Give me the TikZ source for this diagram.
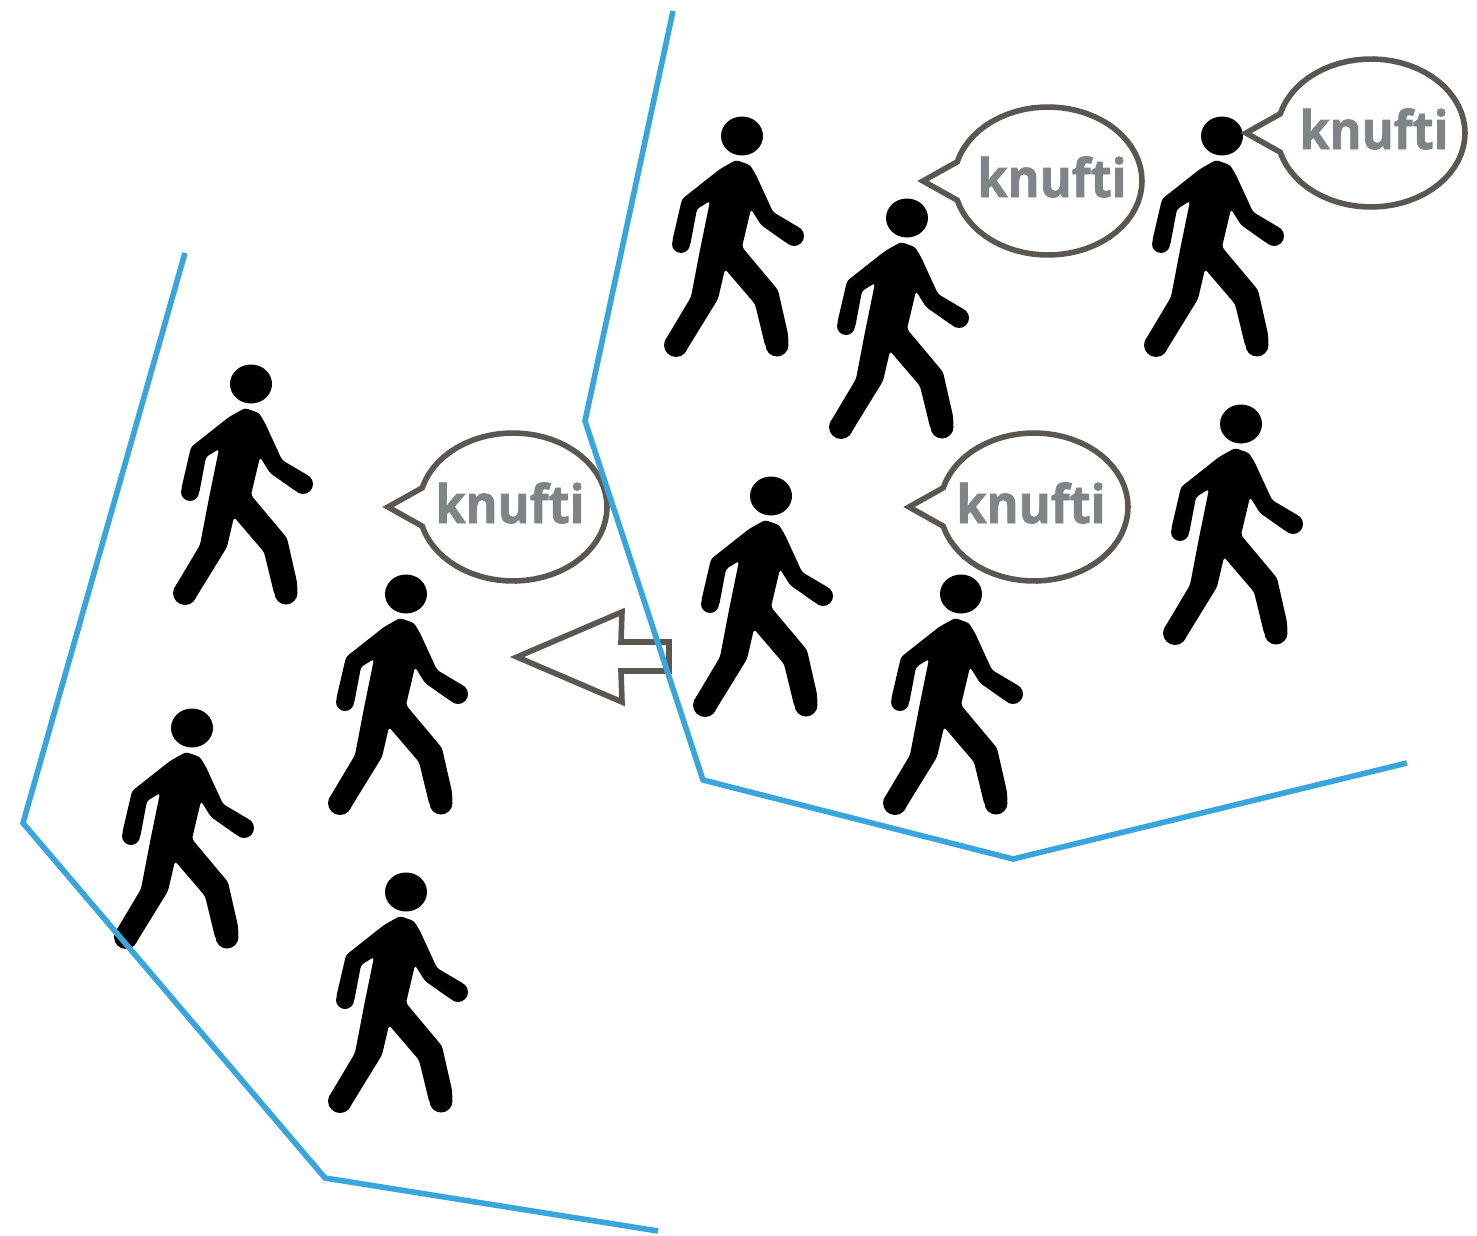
\documentclass[tikz,border=0pt]{standalone}
\usepackage{fontspec}
\setmainfont{Open Sans}
\newfontfamily\knfont[BoldFeatures={FakeBold=1.5}]{Open Sans}
\definecolor{bluel}{HTML}{38A6DC}
\definecolor{outl}{HTML}{5B5750}
\definecolor{txt}{HTML}{7F8487}
\tikzset{
  boundary/.style={draw=bluel,line width=2.8pt,line join=miter},
  outlined/.style={draw=outl,line width=2.8pt,line join=miter,miter limit=10},
  knuftilabel/.style={font=\knfont\bfseries\fontsize{26.5}{28}\selectfont,text=txt,inner sep=0pt,anchor=base},
  walker/.pic={
    \fill[black] (0,0) ellipse[x radius=21,y radius=19.5];
    \fill[black,rounded corners=1.5pt]
      (-6,24) -- (8,29) -- (14,39) -- (31,76) -- (58,92) -- (46,108)
      -- (19,89) -- (9,73) -- (0,111) -- (36,154) -- (46,198) -- (46.5,209) -- (23.5,211)
      -- (13,168) -- (-17,133) -- (-24,163) -- (-56,215) -- (-76,203)
      -- (-51,161) -- (-42,114) -- (-32,65) -- (-45,73) -- (-52,110) -- (-70,106) -- (-60,63)
      -- (-22,33) -- cycle;
    \fill[black] (52,100) circle[radius=10] (35,209) circle[radius=11.5]
      (-66,209) circle[radius=12] (-61,108) circle[radius=9];
  },
  bubble/.pic={
    \draw[outlined] (-125,0) -- plot[domain=195:525,samples=61] ({94*cos(\x)},{74*sin(\x)}) -- cycle;
  }
}
\begin{document}
\begin{tikzpicture}[x=0.5pt,y=-0.5pt]
\useasboundingbox (0,0) rectangle (1477,1236);
\foreach \n/\px/\py in {w1/742/136,w2/907/218,w3/1222/136,w4/771/496,w5/961/594,w6/1241/424,w7/251/384,w8/406/594,w9/192/728,w10/406/892}
  \pic (\n) at (\px,\py) {walker};
\foreach \n/\px/\py/\tx in {b1/1048/181/1052,b2/1371/133/1374,b3/1034/507/1031,b4/513/507/510}{
  \pic (\n) at (\px,\py) {bubble};
  \pgfmathsetmacro{\ty}{\py+16}
  \node[knuftilabel] (\n label) at (\tx,\ty) {\scalebox{0.92}[1]{knufti}};
}
\draw[outlined] (517,657) -- (622,612) -- (621,642) -- (669,642) -- (669,671) -- (621,671) -- (622,702) -- cycle;
\draw[boundary] (673,11) -- (585,421) -- (703,780) -- (1013,859) -- (1407,763);
\draw[boundary] (185,253) -- (23,823) -- (325,1178) -- (658,1231);
\end{tikzpicture}
\end{document}
